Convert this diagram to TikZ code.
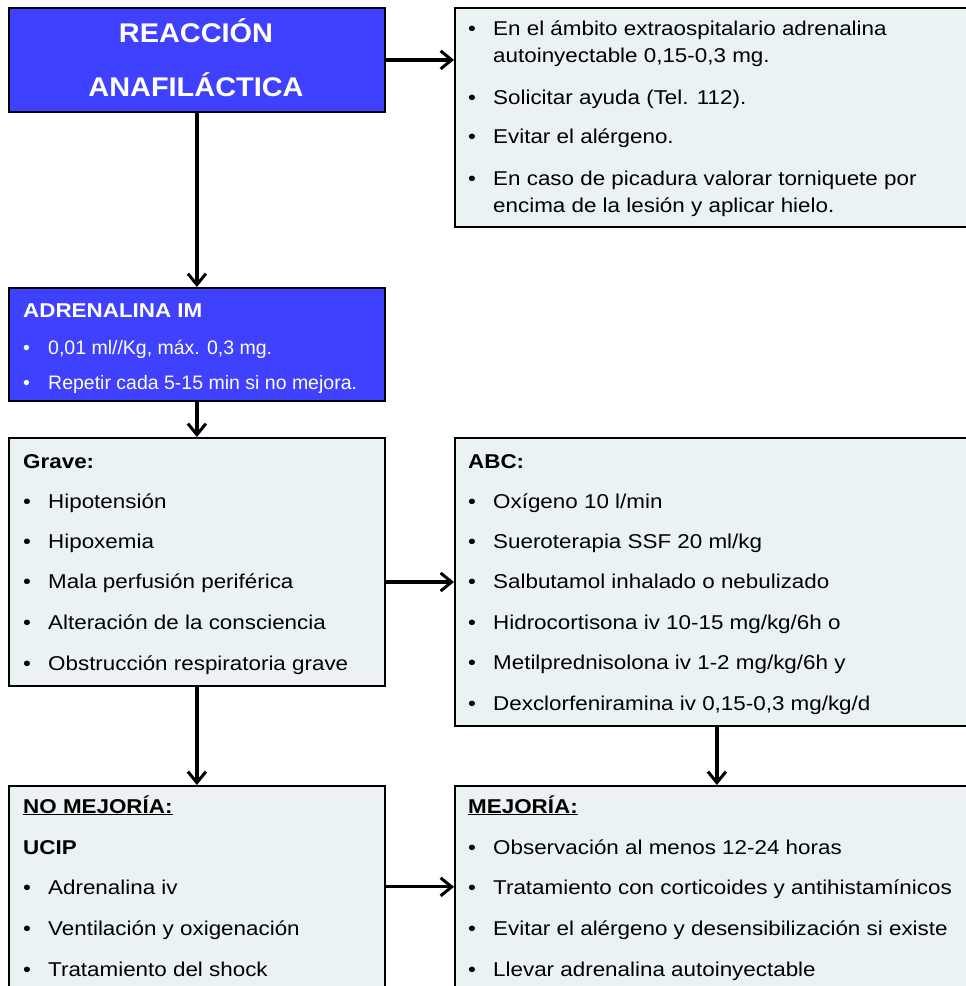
\documentclass[tikz,border=0pt]{standalone}
\usepackage{fontspec}
\setmainfont{Liberation Sans}
\newfontfamily\bodyf{Liberation Sans}[FakeStretch=1.12]
\newfontfamily\titlef{Liberation Sans}[FakeStretch=1.07]
\usetikzlibrary{arrows.meta,calc}
\definecolor{boxblue}{RGB}{64,64,255}
\definecolor{boxlight}{RGB}{234,242,244}
\newcommand\bul{\makebox[25pt][l]{•}}
\begin{document}
\begin{tikzpicture}[x=1pt,y=-1pt,
 bluebox/.style={draw=black, line width=1.8pt, fill=boxblue, anchor=north west, inner sep=0pt},
 lightbox/.style={draw=black, line width=1.8pt, fill=boxlight, anchor=north west, inner sep=0pt},
 arr/.style={line width=3.2pt, -{Straight Barb[length=11pt,width=18pt,line width=3pt]}},
 t/.style={anchor=base west, inner sep=0pt, font=\bodyf\fontsize{20}{24}\selectfont},
 th/.style={anchor=base west, inner sep=0pt, font=\bodyf\bfseries\fontsize{20}{24}\selectfont},
 tw/.style={anchor=base west, inner sep=0pt, text=white, font=\fontsize{19.5}{23}\selectfont},
 titletext/.style={anchor=base, inner sep=0pt, text=white, font=\titlef\bfseries\fontsize{27}{30}\selectfont},
]
\useasboundingbox (0,0) rectangle (966,986);
\clip (0,0) rectangle (966,986);

% boxes
\node[bluebox, minimum width=376pt, minimum height=104pt] (b1) at (8,7) {};
\node[lightbox, minimum width=524pt, minimum height=219pt] (b2) at (454,7) {};
\node[bluebox, minimum width=376pt, minimum height=113pt] (b3) at (8,287) {};
\node[lightbox, minimum width=376pt, minimum height=248pt] (b4) at (8,437) {};
\node[lightbox, minimum width=524pt, minimum height=288pt] (b5) at (454,437) {};
\node[lightbox, minimum width=376pt, minimum height=240pt] (b6) at (8,785) {};
\node[lightbox, minimum width=524pt, minimum height=240pt] (b7) at (454,785) {};

% title
\node[titletext] (t1) at (196,42.7) {REACCIÓN};
\node[titletext] (t2) at (196,96.7) {ANAFILÁCTICA};

% box 2
\node[t] (r1) at (468,35) {\bul En el ámbito extraospitalario adrenalina};
\node[t] (r1b) at (493,62) {autoinyectable 0,15-0,3 mg.};
\node[t] (r2) at (468,104) {\bul Solicitar ayuda (Tel. 112).};
\node[t] (r3) at (468,143) {\bul Evitar el alérgeno.};
\node[t] (r4) at (468,185) {\bul En caso de picadura valorar torniquete por};
\node[t] (r4b) at (493,212) {encima de la lesión y aplicar hielo.};

% box 3
\node[th, text=white] (a0) at (23,317) {ADRENALINA IM};
\node[tw] (a1) at (23,354) {\bul 0,01 ml//Kg, máx. 0,3 mg.};
\node[tw] (a2) at (23,389) {\bul Repetir cada 5-15 min si no mejora.};

% box 4
\node[th] (g0) at (23,468) {Grave:};
\node[t] (g1) at (23,508) {\bul Hipotensión};
\node[t] (g2) at (23,548) {\bul Hipoxemia};
\node[t] (g3) at (23,588) {\bul Mala perfusión periférica};
\node[t] (g4) at (23,629) {\bul Alteración de la consciencia};
\node[t] (g5) at (23,670) {\bul Obstrucción respiratoria grave};

% box 5
\node[th] (c0) at (468,468) {ABC:};
\node[t] (c1) at (468,508) {\bul Oxígeno 10 l/min};
\node[t] (c2) at (468,548) {\bul Sueroterapia SSF 20 ml/kg};
\node[t] (c3) at (468,588) {\bul Salbutamol inhalado o nebulizado};
\node[t] (c4) at (468,629) {\bul Hidrocortisona iv 10-15 mg/kg/6h o};
\node[t] (c5) at (468,669) {\bul Metilprednisolona iv 1-2 mg/kg/6h y};
\node[t] (c6) at (468,710) {\bul Dexclorfeniramina iv 0,15-0,3 mg/kg/d};

% box 6
\node[th] (n0) at (23,813) {\underline{NO MEJORÍA:}};
\node[th] (n1) at (23,854) {UCIP};
\node[t] (n2) at (23,894) {\bul Adrenalina iv};
\node[t] (n3) at (23,935) {\bul Ventilación y oxigenación};
\node[t] (n4) at (23,976) {\bul Tratamiento del shock};

% box 7
\node[th] (m0) at (468,813) {\underline{MEJORÍA:}};
\node[t] (m1) at (468,854) {\bul Observación al menos 12-24 horas};
\node[t] (m2) at (468,894) {\bul Tratamiento con corticoides y antihistamínicos};
\node[t] (m3) at (468,935) {\bul Evitar el alérgeno y desensibilización si existe};
\node[t] (m4) at (468,976) {\bul Llevar adrenalina autoinyectable};

% connectors
\draw[arr] (b1.east) -- (b1.east -| b2.west);
\draw[arr] (b1.south) -- (b3.north);
\draw[arr] (b3.south) -- (b4.north);
\draw[arr] ($(b4.east |- g3.base)+(0,-6)$) -- ($(b5.west |- g3.base)+(0,-6)$);
\draw[arr] (b4.south) -- (b6.north);
\draw[arr] (b5.south) -- (b7.north);
\draw[arr] (b6.east |- n2) -- (b7.west |- n2);
\end{tikzpicture}
\end{document}
